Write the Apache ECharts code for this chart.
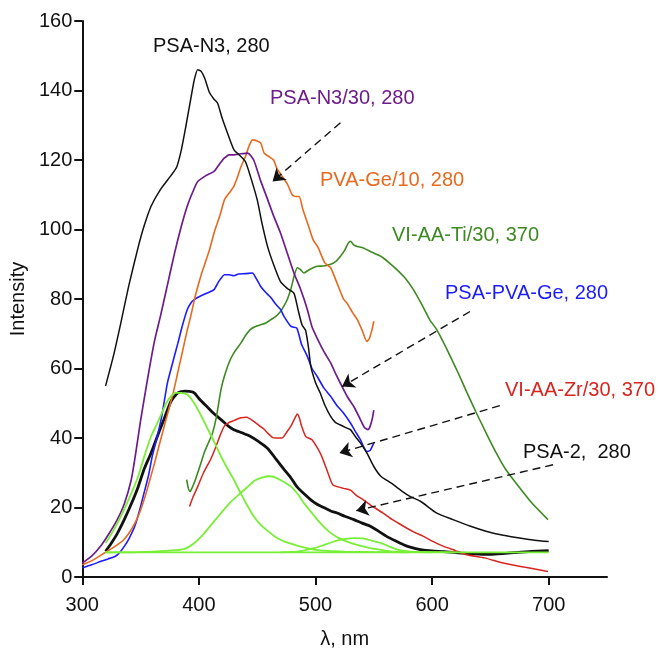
<!DOCTYPE html>
<html>
<head>
<meta charset="utf-8">
<script src="https://cdn.jsdelivr.net/npm/echarts@6/dist/echarts.min.js"></script>
<style>
html,body{margin:0;padding:0;background:#fff;}
#chart{width:662px;height:654px;}
</style>
</head>
<body>
<div id="chart"></div>
<script>
// ---- axis ticks ----
const xTicks = [300, 400, 500, 600, 700];
const yTicks = [0, 20, 40, 60, 80, 100, 120, 140, 160];

// ---- series data: [wavelength nm, intensity] ----
const psaN3 = [[320,55],[327,64],[333,73],[340,84],[348,95],[353,101],[359,106.7],[367,111.5],[376,115.5],[381,118],[385,123],[389,130],[393,137.5],[396,143],[399,146],[402,145.5],[405,143.5],[409,139.5],[413,137.5],[416,136.4],[420,132],[424.5,127.8],[430,123],[436,121],[440,119.5],[444,115.5],[450,108.6],[454,102],[459,95],[464,90],[470,85],[476,83],[481.5,81.7],[485,77],[488.5,72.5],[491.5,71],[494,66],[496,60.6],[500,56],[504,53],[508,49.5],[513,46.2],[517,44.5],[521,43.8],[526,43],[530,42.4],[534,40.5],[538.5,38.6],[544,35.7],[550,31.8],[556,29],[565,27],[575,24.5],[581,23.2],[590,21.8],[604,18.4],[618,16.5],[633,14.6],[647,13.1],[661,12],[675,11.2],[688,10.6],[700,10.2]];

const psaN330 = [[300,4],[308,6],[316,9],[323,12.5],[330,16.5],[336,21],[342,28],[346,36],[350,45],[356,57],[362,68],[367,75],[373,84],[379,93],[385,101],[390,106.7],[395,111],[399,113.8],[406,115.5],[413,116.7],[418,119],[422,120.6],[426,121.5],[430,121.5],[436,121.8],[442,122],[447,120],[453,114],[459,108.6],[464,104],[470,99],[476,93],[481.5,87.5],[487,83],[493,77],[497,72],[502,68.3],[507,65],[513,61.6],[518,58],[524,54],[528,51.5],[533,49],[538.5,45.3],[542,43],[545,42.4],[547,43.5],[549,46],[550,48]];

const pvaGe10 = [[300,3.5],[310,5],[319,6.9],[328,8.8],[335,10.5],[342,13.6],[348,17.5],[353,22.2],[358,28],[362,32.8],[366,38],[370,43],[374,48],[378,53],[382,59],[386,65],[390,71],[393,75],[397,81],[402,87],[406,91],[409,94],[413,99],[418,104],[422,108.6],[426,110.5],[430,112.4],[433,115],[436,118],[440,121],[443,124],[446,125.8],[450,125.5],[453,124.9],[456,122],[460,121],[464,120],[467,117.5],[471,115.5],[476,113],[480,110],[483,109.5],[486,109.5],[489,106],[493,102],[498,97],[502,95],[508,90.4],[513,89],[518,85],[524,80],[527,78.8],[532,76],[536,74],[540,71],[544,67.8],[546,68.5],[548.5,71.2],[550,73.6]];

const viAaTi30 = [[389.5,28],[391,25.5],[392.5,24.6],[394,25.5],[397,28],[401,32],[404.5,35.7],[408,38.5],[411.7,41.4],[415,46],[419,54],[423,59],[427,62.6],[431,65],[436,67.3],[440,69.5],[444,71.2],[448,72],[453,72.6],[457,73],[461.5,74],[466,75],[470,76.4],[473,78],[476,80],[479,83],[482,87],[484.4,89],[487,88.5],[490,87.5],[495,88.5],[501.5,89.4],[507,89.5],[513,90],[518,91],[521.4,92.3],[525,94],[528,96],[530,96.6],[533,95.5],[536,95.1],[541,94.7],[548,93.5],[556,92.3],[563,90.5],[570,88.4],[577,86],[584,82.7],[591,78.5],[598,74],[604,71.2],[612,66],[621,59.7],[630,53],[638,47.2],[647,41],[655,35.7],[663,31],[672,27],[685,21.5],[699.4,16.5]];

const psaPvaGe = [[300,2.6],[308,3.5],[316,4.5],[322,5.2],[328,5.9],[332,7],[336,8.8],[340,11],[345,14.6],[349,19],[353,24.2],[357,29.5],[360,34.7],[364,40],[368,46],[373,55.8],[377,61],[382,67.3],[386,72.5],[390,76.9],[393,78.8],[396,79.8],[401,80.8],[407,81.7],[413,82.7],[417,85],[422,87],[426,87],[430,86.7],[434,87.2],[440,87.3],[446,87.5],[449,86],[453,83.6],[457,82],[461.5,80.5],[466,78.5],[470,77],[473,75],[479,72.1],[484,71.6],[488,67],[493,63.5],[497,60],[501.5,57.7],[507,54.5],[513,52],[518,49.5],[524,47.2],[530,44.3],[534,42],[538.5,39.5],[542,37],[544,36.1],[547,36.5],[550,38.6]];

const viAaZr30 = [[392,20.3],[395,23],[399,26],[404,30],[410,33.8],[414,37],[419,41.4],[422,43.5],[425,44.3],[430,45],[436,45.8],[441,46],[447,44.8],[452,43.5],[456,42.5],[459,41.4],[463,40.2],[466,40],[471.5,40],[475,41.5],[479,43.5],[482,45.5],[484.4,46.9],[486,46],[488,43.5],[491.5,40.5],[494,40],[497,39.5],[501,37.5],[505,35],[509,31.5],[512.8,28],[515,26.5],[518.5,26],[524,25.5],[530,25],[535,23.5],[541,22.2],[549,20.3],[558,18.4],[566,16.5],[575.5,14.6],[584,13],[592.6,11.7],[601,10.2],[610,8.8],[620,7.6],[629.6,6.4],[645,5.5],[661,4],[680,2.8],[699.4,1.6]];

const psa2 = [[320,7.4],[325,9.8],[330,12.5],[336,16.5],[342,21],[348,26],[353,31],[359,35.7],[365,41],[370,45.3],[376,50.5],[382,53],[388,53.5],[392,53.4],[396,53],[401,51],[407,49],[413,47],[419,45.3],[425,43.5],[430,42.4],[437,41.5],[444,40.5],[451,39],[459,37],[466,34],[473,31],[479,28.5],[484,26],[490,24],[496,22.2],[501,21],[507,20],[513,19],[518.5,18.4],[525,17.5],[533,16.5],[540,15.5],[547,14.6],[554,13.2],[561,11.7],[568,10.5],[575.5,9.3],[582,8.5],[590,7.9],[600,7.5],[610,7.3],[620,7],[630,6.8],[640,6.6],[650,6.5],[660,6.7],[670,7],[685,7.4],[700,7.6]];

// fitted components of PSA-2
const fit1 = [[320,9.8],[326,13],[333,17.4],[340,22.5],[348,29],[353,34.5],[359,40.5],[364,44],[368,47],[372,50],[376,52],[380,53],[385,53],[390,52.5],[396,50],[401,47],[407,43],[413,39],[419,34.7],[424,31.5],[430,28],[436,24],[442,20.3],[447,17.5],[453,15],[460,13],[467,11.2],[474,10.1],[481.5,9.3],[490,8.5],[498.5,7.9],[510,7.5],[525,7.3],[545,7.2],[580,7.1]];
const fit2 = [[320,7.1],[340,7.1],[360,7.3],[375,7.6],[387,8],[395,9.5],[403,12],[413,16],[420,18.8],[427,21.5],[436,24.2],[442,26],[448,27.8],[454,28.6],[460,29],[466,28.6],[472,27.5],[479,26],[485,23.8],[490,21.3],[496,18.8],[501.5,16.5],[507,14.5],[513,12.7],[520,11.2],[530,9.8],[538,9],[547,8.3],[556,7.8],[564,7.4],[580,7.2],[600,7.1]];
const fit3 = [[470,7.1],[484,7.3],[492,7.8],[500,8.4],[507,9.2],[514,10],[520,10.6],[526,11],[533,11.2],[541,11.1],[548,10.5],[556,9.8],[563,8.8],[570,7.9],[580,7.4],[595,7.2],[620,7.1]];
const fitBase = [[320,7.1],[700,7.1]];

// ---- annotation labels and arrows ----
const labelTexts = ['PSA-N3, 280','PSA-N3/30, 280','PVA-Ge/10, 280','VI-AA-Ti/30, 370','PSA-PVA-Ge, 280','VI-AA-Zr/30, 370','PSA-2,  280'];
const arrows = [
  [[521.4,130.7],[463.2,113.8]],
  [[632.5,76.4],[522.8,54.8]],
  [[658.1,49.3],[520.5,35.7]],
  [[703.7,32.3],[535,19.1]]
];

const C = {
  black:'#111111', purple:'#6e1c8c', orange:'#e8691e', dgreen:'#3d8a22',
  blue:'#1c1cff', red:'#d9251f', lgreen:'#78ef36'
};
const FONT = '"Liberation Sans", Arial, Helvetica, sans-serif';

function line(name, data, color, width, z) {
  return {
    name, type:'line', data, showSymbol:false, symbol:'none', smooth:0.2,
    lineStyle:{color, width}, itemStyle:{color}, z: z||2, silent:true, animation:false
  };
}

const series = [
  line('fit base', fitBase, C.lgreen, 1.8, 3),
  line('fit 1', fit1, C.lgreen, 1.8, 3),
  line('fit 2', fit2, C.lgreen, 1.8, 3),
  line('fit 3', fit3, C.lgreen, 1.8, 3),
  line('PSA-2, 280', psa2, C.black, 2.8, 2),
  line('VI-AA-Zr/30, 370', viAaZr30, C.red, 1.5),
  line('VI-AA-Ti/30, 370', viAaTi30, C.dgreen, 1.6),
  line('PSA-PVA-Ge, 280', psaPvaGe, C.blue, 1.6),
  line('PVA-Ge/10, 280', pvaGe10, C.orange, 1.6),
  line('PSA-N3/30, 280', psaN330, C.purple, 1.7),
  line('PSA-N3, 280', psaN3, C.black, 1.5),
  {
    type:'line', data:[], silent:true, animation:false, z:8,
    markLine:{
      silent:true, animation:false,
      symbol:['none','arrow'], symbolSize:12,
      label:{show:false},
      itemStyle:{color:'#111'},
      lineStyle:{color:'#111', width:1.4, type:[8,5]},
      emphasis:{disabled:true},
      data: arrows.map(a => [{coord:a[0]},{coord:a[1]}])
    }
  }
];

const labelPos = [[153,46,C.black],[270,98,C.purple],[320,180,C.orange],[392,235,C.dgreen],[445,293,C.blue],[505,390,C.red],[523,452,C.black]];
const graphic = labelTexts.map((t,i) => ({
  type:'text', x:labelPos[i][0], y:labelPos[i][1], z:10,
  style:{text:t, fill:labelPos[i][2], font:'20px ' + FONT, verticalAlign:'middle', align:'left'}
}));

const chart = echarts.init(document.getElementById('chart'), null, {renderer:'canvas'});
chart.setOption({
  animation:false,
  backgroundColor:'#ffffff',
  grid:{left:81, top:21, right:55, bottom:77, containLabel:false},
  xAxis:{
    type:'value', min:300, max:750, interval:100,
    name:'λ, nm', nameLocation:'middle', nameGap:52,
    nameTextStyle:{fontSize:20, color:'#111', fontFamily:FONT},
    axisLine:{show:true, onZero:false, lineStyle:{color:'#111', width:2}},
    axisTick:{show:true, length:8, lineStyle:{color:'#111', width:2}, customValues:xTicks},
    axisLabel:{fontSize:20, color:'#111', fontFamily:FONT, margin:18, customValues:xTicks},
    splitLine:{show:false}
  },
  yAxis:{
    type:'value', min:0, max:160, interval:20,
    name:'Intensity', nameLocation:'middle', nameGap:54,
    nameTextStyle:{fontSize:20, color:'#111', fontFamily:FONT},
    axisLine:{show:true, lineStyle:{color:'#111', width:2}},
    axisTick:{show:true, length:8, lineStyle:{color:'#111', width:2}, customValues:yTicks},
    axisLabel:{fontSize:20, color:'#111', fontFamily:FONT, margin:10, customValues:yTicks},
    splitLine:{show:false}
  },
  series,
  graphic
});
</script>
</body>
</html>
